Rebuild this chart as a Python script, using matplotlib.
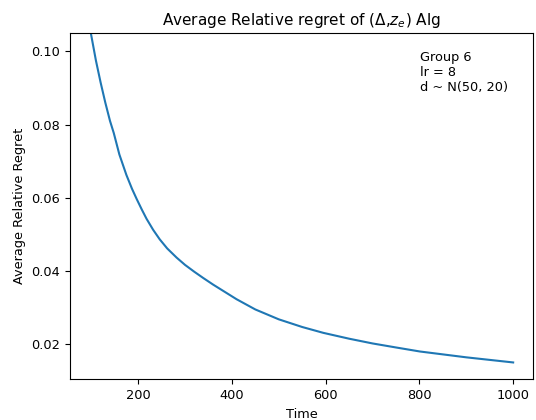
import numpy as np
import matplotlib
matplotlib.use('Agg')
from matplotlib import pyplot as plt

# values
time = [98, 110, 120, 130, 140, 148, 160, 175, 187, 197, 208, 218, 232, 246, 262, 282,
        300, 320, 339, 360, 385, 410, 450, 500, 550, 595, 650, 700, 750, 801, 900, 1000]
regret = [0.1058, 0.0975, 0.0915, 0.0860, 0.0810, 0.0777, 0.0718, 0.0662, 0.0624, 0.0596,
          0.0567, 0.0542, 0.0512, 0.0486, 0.0461, 0.0436, 0.0416, 0.0397, 0.0380, 0.0362,
          0.0342, 0.0322, 0.0294, 0.0267, 0.0246, 0.0230, 0.0214, 0.0201, 0.0190, 0.0179,
          0.0163, 0.0149]

fig = plt.figure(figsize=(5.36, 4.2), dpi=100)
ax = fig.add_subplot(111)
fig.subplots_adjust(left=0.130, right=0.995, top=0.921, bottom=0.097)

ax.plot(time, regret, color='#1f77b4', linewidth=1.5)
ax.set_ylim(0.0103, 0.105)
ax.set_xlim(54, 1043)
ax.set_xticks([200, 400, 600, 800, 1000])
ax.set_yticks([0.02, 0.04, 0.06, 0.08, 0.10])
ax.tick_params(labelsize=9.3)

ax.set_title(r'Average Relative regret of ($\Delta$,$z_e$) Alg', fontsize=11)
ax.set_xlabel('Time', fontsize=9.3)
ax.set_ylabel('Average Relative Regret', fontsize=9.3)
ax.text(0.755, 0.949, 'Group 6\nlr = 8\nd ~ N(50, 20)', transform=ax.transAxes,
        va='top', ha='left', fontsize=9.3)

fig.savefig('out.png', dpi=100)
